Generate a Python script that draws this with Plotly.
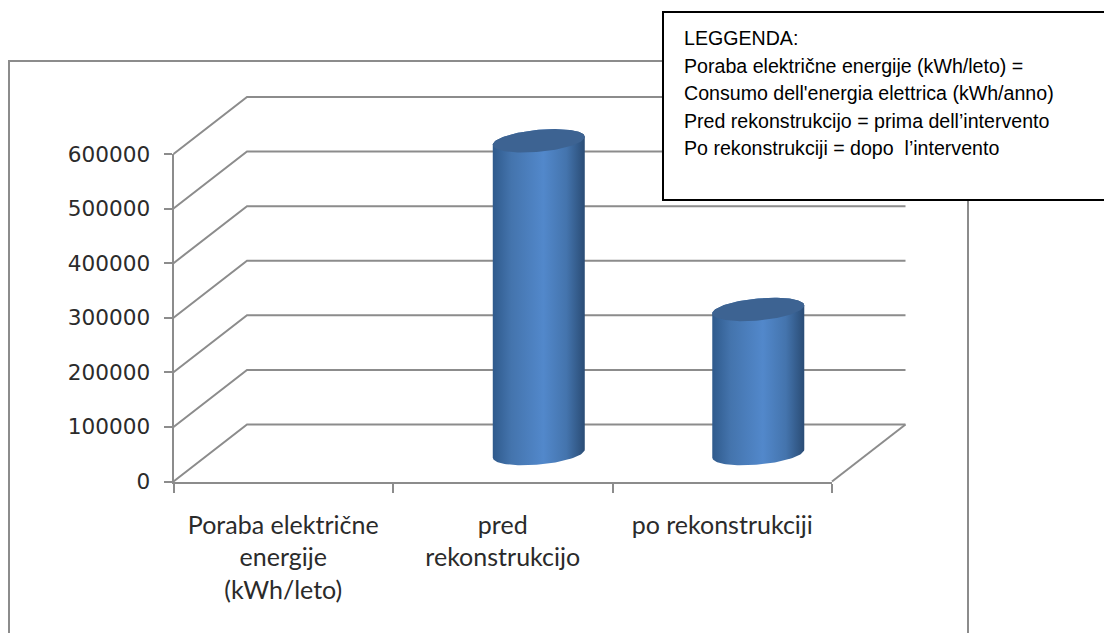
import numpy as np
import plotly.graph_objects as go

W, H = 1104, 633

# ---- data ----
categories = ["Poraba električne<br>energije<br>(kWh/leto)", "pred<br>rekonstrukcijo", "po rekonstrukciji"]
values = [None, 573000, 264000]
y_ticks = [0, 100000, 200000, 300000, 400000, 500000, 600000]
legend_lines = [
    "LEGGENDA:",
    "Poraba električne energije (kWh/leto) =",
    "Consumo dell'energia elettrica (kWh/anno)",
    "Pred rekonstrukcijo = prima dell’intervento",
    "Po rekonstrukciji = dopo  l’intervento",
]

# ---- plot geometry (pixels) ----
X0, X1 = 173.5, 832.0
Y0, Y1 = 481.5, 154.0
GRID = "#8c8c8c"
px_x = (X1 - X0) / 3
px_y = (Y0 - Y1) / 600000
DX = 73.5 / px_x          # depth offset in category units
DY = 57 / px_y            # depth offset in value units


def xp(px):
    return px / W


def yp(px):
    return 1 - px / H


fig = go.Figure()
OVER = dict(xaxis="x2", yaxis="y2", showlegend=False, hoverinfo="skip")

# the series on the real axes (keeps the visible axes alive; marks are the cylinders below)
fig.add_trace(go.Scatter(x=[0.5, 1.5, 2.5], y=values, mode="markers", marker=dict(opacity=0),
                         showlegend=False, hoverinfo="skip"))

# side-wall and back-wall grid lines
gx, gy = [], []
for v in y_ticks:
    gx += [0, DX, 3 + DX, None]
    gy += [v, v + DY, v + DY, None]
gx += [3, 3 + DX, None]
gy += [0, DY, None]
fig.add_trace(go.Scatter(x=gx, y=gy, mode="lines", line=dict(color=GRID, width=2), **OVER))

# cylinders
A = 46 / px_x
B = 11 / px_y
SHEAR = 4 / px_y
DEPTH = 0.49
BODY = [[0, "#2f5a8c"], [0.2, "#4474ad"], [0.55, "#5288cb"], [0.8, "#4474ad"], [1, "#2a4c75"]]
t = np.linspace(0, 2 * np.pi, 121)
for i, v in enumerate(values):
    if v is None:
        continue
    cx = i + 0.5 + DEPTH * DX
    cy0 = DEPTH * DY
    cy1 = cy0 + v
    tb = np.linspace(np.pi, 2 * np.pi, 61)
    xb = cx + A * np.cos(tb)
    yb = cy0 + SHEAR * np.cos(tb) + B * np.sin(tb)
    tt = np.linspace(0, np.pi, 61)
    xt = cx + A * np.cos(tt)
    yt = cy1 + SHEAR * np.cos(tt) + B * np.sin(tt)
    fig.add_trace(go.Scatter(
        x=np.r_[xb, xt, xb[0]], y=np.r_[yb, yt, yb[0]], mode="lines", fill="toself",
        line=dict(width=0), fillgradient=dict(type="horizontal", colorscale=BODY), **OVER))
    fig.add_trace(go.Scatter(
        x=cx + A * np.cos(t), y=cy1 + SHEAR * np.cos(t) + B * np.sin(t), mode="lines",
        fill="toself", fillcolor="#3d6392", line=dict(width=0), **OVER))

fig.update_layout(
    width=W, height=H, autosize=False,
    margin=dict(l=0, r=0, t=0, b=0, pad=0),
    paper_bgcolor="white", plot_bgcolor="rgba(0,0,0,0)",
    xaxis=dict(
        domain=[xp(X0), xp(X1)], range=[0, 3], tickmode="array", automargin=False,
        tickvals=[0.5, 1.5, 2.5], ticktext=categories, ticks="", showgrid=False,
        zeroline=False, showline=True, linecolor=GRID, linewidth=2,
        tickfont=dict(family="Lato", size=25, color="#2b2b2b"), tickangle=0,
        ticklabelstandoff=20,
        minor=dict(tickmode="array", tickvals=[0, 1, 2, 3], ticks="outside",
                   ticklen=9, tickwidth=2, tickcolor=GRID, showgrid=False),
    ),
    yaxis=dict(
        domain=[yp(Y0), yp(Y1)], range=[0, 600000], tickmode="array", automargin=False,
        tickvals=y_ticks, ticktext=[str(v) for v in y_ticks], ticks="outside",
        ticklen=8, tickwidth=2, tickcolor=GRID, showgrid=False, zeroline=False,
        showline=True, linecolor=GRID, linewidth=2, ticklabelstandoff=9,
        tickfont=dict(family="DejaVu Sans", size=21.6, color="#2b2b2b"),
    ),
    # full-page axes with the same scale, for the pseudo-3D depth
    xaxis2=dict(domain=[0, 1], range=[-X0 / px_x, (W - X0) / px_x],
                visible=False, anchor="y2", automargin=False),
    yaxis2=dict(domain=[0, 1], range=[(Y0 - H) / px_y, Y0 / px_y],
                visible=False, anchor="x2", automargin=False),
    shapes=[
        dict(type="path", xref="paper", yref="paper", layer="below",
             path=f"M {xp(9)} 0 L {xp(9)} {yp(61)} L {xp(968)} {yp(61)} L {xp(968)} 0",
             line=dict(color=GRID, width=2)),
        dict(type="rect", xref="paper", yref="paper", layer="above",
             x0=xp(663), x1=xp(1110), y0=yp(200), y1=yp(12),
             fillcolor="white", line=dict(color="#000000", width=2)),
    ],
)

for i, line in enumerate(legend_lines):
    fig.add_annotation(xref="paper", yref="paper", x=xp(682), y=yp(38 + i * 27.6),
                       xanchor="left", yanchor="middle", showarrow=False, text=line,
                       font=dict(family="Liberation Sans", size=19.6, color="#000000"))

fig.write_html("out.html", post_script="document.body.style.margin='0';",
               config={"displayModeBar": False})
